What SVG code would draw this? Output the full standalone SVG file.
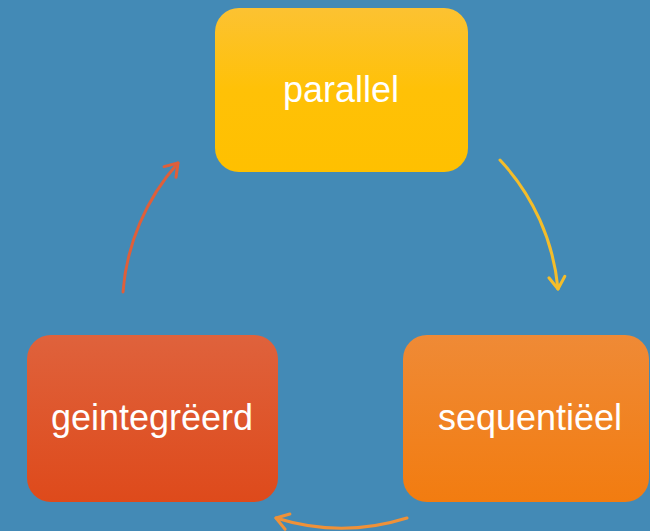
<svg xmlns="http://www.w3.org/2000/svg" width="650" height="531" viewBox="0 0 650 531">
  <defs>
    <style>
      .label { font-family: "Liberation Sans", Arial, sans-serif; font-size: 36px; fill: #ffffff; text-anchor: middle; }
      .arc { fill: none; stroke-width: 3; stroke-linecap: round; }
      .head { fill: none; stroke-width: 3; stroke-linecap: round; stroke-linejoin: round; }
    </style>
    <linearGradient id="gYellow" x1="0" y1="0" x2="0" y2="1">
      <stop offset="0" stop-color="#fcc232"/>
      <stop offset="0.5" stop-color="#ffc107"/>
      <stop offset="1" stop-color="#ffc000"/>
    </linearGradient>
    <linearGradient id="gOrange" x1="0" y1="0" x2="0" y2="1">
      <stop offset="0" stop-color="#ef8a36"/>
      <stop offset="1" stop-color="#f27c10"/>
    </linearGradient>
    <linearGradient id="gRed" x1="0" y1="0" x2="0" y2="1">
      <stop offset="0" stop-color="#df623c"/>
      <stop offset="1" stop-color="#de4a1b"/>
    </linearGradient>
    <marker id="mYellow" markerUnits="userSpaceOnUse" markerWidth="30" markerHeight="30" refX="15" refY="15" orient="auto" overflow="visible">
      <path class="head" d="M3,7 L15,15 L3,23" stroke="#f4bd2a"/>
    </marker>
    <marker id="mOrange" markerUnits="userSpaceOnUse" markerWidth="30" markerHeight="30" refX="15" refY="15" orient="auto" overflow="visible">
      <path class="head" d="M3,7 L15,15 L3,23" stroke="#ef9138"/>
    </marker>
    <marker id="mRed" markerUnits="userSpaceOnUse" markerWidth="30" markerHeight="30" refX="15" refY="15" orient="auto" overflow="visible">
      <path class="head" d="M3,7 L15,15 L3,23" stroke="#df5f3a"/>
    </marker>
  </defs>

  <rect x="0" y="0" width="650" height="531" fill="#438ab6"/>

  <!-- connectors: arcs of one circle around the cycle -->
  <g id="connectors">
    <path class="arc" d="M500,160 A219,219 0 0 1 558,289" stroke="#f4bd2a" marker-end="url(#mYellow)"/>
    <path class="arc" d="M407,518 A219,219 0 0 1 276,518" stroke="#ef9138" marker-end="url(#mOrange)"/>
    <path class="arc" d="M123,292 A219,219 0 0 1 178,163" stroke="#df5f3a" marker-end="url(#mRed)"/>
  </g>

  <g id="node-parallel">
    <rect x="215" y="8" width="253" height="164" rx="24" fill="url(#gYellow)"/>
    <text class="label" x="341" y="102">parallel</text>
  </g>

  <g id="node-sequentieel">
    <rect x="403" y="335" width="246" height="167" rx="24" fill="url(#gOrange)"/>
    <text class="label" x="530" y="430">sequentiëel</text>
  </g>

  <g id="node-geintegreerd">
    <rect x="27" y="335" width="251" height="167" rx="24" fill="url(#gRed)"/>
    <text class="label" x="152" y="430">geintegrëerd</text>
  </g>
</svg>
